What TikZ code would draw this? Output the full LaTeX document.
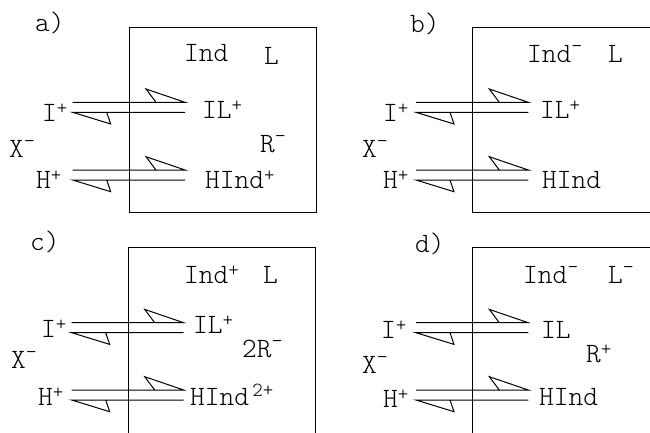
\documentclass[tikz,border=0pt]{standalone}
\usepackage{fontspec}
\newfontfamily\cadfont{Latin Modern Mono Light}
\newcommand\spp[1]{\raisebox{6.5pt}{\fontsize{20}{20}\selectfont #1}}
\newcommand\spm{\raisebox{10pt}{\fontsize{21}{21}\selectfont -}}
\newcommand\eqarr[4]{% name, xL, xR, ytop
  \coordinate (#1L1) at (#2,#4);
  \coordinate (#1R1) at (#3,#4);
  \coordinate (#1L2) at (#2,#4+10);
  \coordinate (#1R2) at (#3,#4+10);
  \draw[ln] (#1L1) -- (#1R1) -- ++(-39,-13.3) -- ++(10,13.3);
  \draw[ln] (#1R2) -- (#1L2) -- ++(38,11.7) -- ++(-4,-11.7);
}
\begin{document}
\begin{tikzpicture}[x=1pt,y=-1pt,
  lbl/.style={anchor=base west, inner sep=0pt, font=\cadfont\fontsize{28}{28}\selectfont},
  ln/.style={line width=1pt, color=black, line join=miter}]
\useasboundingbox (0,0) rectangle (650,432);
\clip (0,0) rectangle (650,432);
% boxes
\draw[ln] (129.3,27.3) rectangle (316,212.7);
\draw[ln] (472.7,27.3) rectangle (670,212.7);
\draw[ln] (128.3,450) |- (315,247.3) -- (315,450);
\draw[ln] (472.7,450) |- (670,247.3);
% arrows
\eqarr{a1}{72.7}{185}{102.3}
\eqarr{a2}{72.7}{185}{170}
\eqarr{b1}{416}{528.3}{102.3}
\eqarr{b2}{416}{528.3}{170}
\eqarr{c1}{71.7}{183.7}{322.7}
\eqarr{c2}{71.7}{183.7}{390}
\eqarr{d1}{416}{528.3}{322.7}
\eqarr{d2}{416}{528.3}{390}
% panel a
\node[lbl] (la) at (35,31) {a)};
\node[lbl] (aInd) at (184,61.7) {Ind};
\node[lbl] (aL) at (264,64) {L};
\node[lbl] (aIL) at (202,118) {IL\spp{+}};
\node[lbl] (aI) at (42,121) {I\spp{+}};
\node[lbl] (aX) at (9,157) {X\spm};
\node[lbl] (aR) at (260,152) {R\spm};
\node[lbl] (aH) at (36,188) {H\spp{+}};
\node[lbl] (aHInd) at (205,188) {HInd\spp{+}};
% panel b
\node[lbl] (lb) at (410,32) {b)};
\node[lbl] (bInd) at (527,62) {Ind\spm};
\node[lbl] (bL) at (608,62) {L};
\node[lbl] (bIL) at (540,118) {IL\spp{+}};
\node[lbl] (bI) at (383,121) {I\spp{+}};
\node[lbl] (bX) at (362,157) {X\spm};
\node[lbl] (bH) at (383,188) {H\spp{+}};
\node[lbl] (bHInd) at (542,188) {HInd};
% panel c
\node[lbl] (lc) at (30,250) {c)};
\node[lbl] (cInd) at (184,283) {Ind\spp{+}};
\node[lbl] (cL) at (263,283) {L};
\node[lbl] (cIL) at (193,333) {IL\spp{+}};
\node[lbl] (cI) at (41,337) {I\spp{+}};
\node[lbl] (cX) at (11,368) {X\spm};
\node[lbl] (cR) at (242,357) {2R\spm};
\node[lbl] (cH) at (38,405) {H\spp{+}};
\node[lbl] (cHInd) at (190,405) {HInd\raisebox{9pt}{\fontsize{20}{20}\selectfont\,2+}};
% panel d
\node[lbl] (ld) at (415,252) {d)};
\node[lbl] (dInd) at (523,283) {Ind\spm};
\node[lbl] (dL) at (608,283) {L\spm};
\node[lbl] (dIL) at (541,338) {IL};
\node[lbl] (dR) at (586,362) {R\spp{+}};
\node[lbl] (dI) at (381,338) {I\spp{+}};
\node[lbl] (dX) at (362,373) {X\spm};
\node[lbl] (dH) at (383,407) {H\spp{+}};
\node[lbl] (dHInd) at (539,405) {HInd};
\end{tikzpicture}
\end{document}
